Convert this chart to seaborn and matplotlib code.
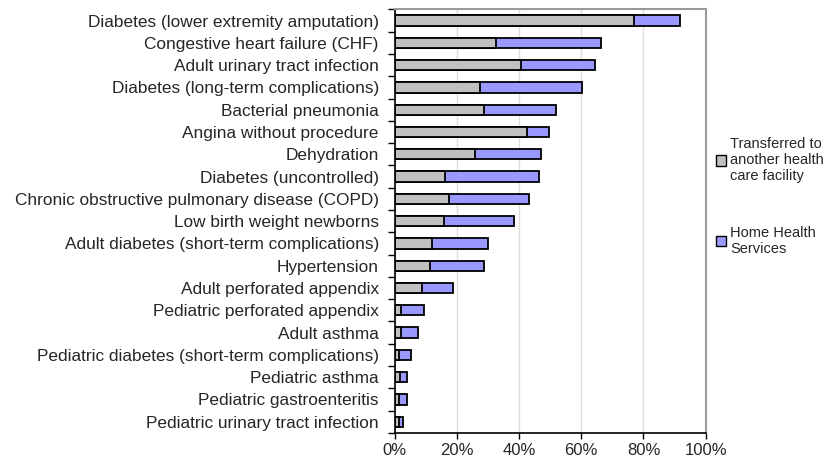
import numpy as np
import pandas as pd
import seaborn as sns
import matplotlib.pyplot as plt
from matplotlib.patches import Patch
from matplotlib.ticker import PercentFormatter, FixedLocator

conditions = [
    "Diabetes (lower extremity amputation)",
    "Congestive heart failure (CHF)",
    "Adult urinary tract infection",
    "Diabetes (long-term complications)",
    "Bacterial pneumonia",
    "Angina without procedure",
    "Dehydration",
    "Diabetes (uncontrolled)",
    "Chronic obstructive pulmonary disease (COPD)",
    "Low birth weight newborns",
    "Adult diabetes (short-term complications)",
    "Hypertension",
    "Adult perforated appendix",
    "Pediatric perforated appendix",
    "Adult asthma",
    "Pediatric diabetes (short-term complications)",
    "Pediatric asthma",
    "Pediatric gastroenteritis",
    "Pediatric urinary tract infection",
]
transferred = [77.0, 32.6, 40.6, 27.5, 28.8, 42.5, 25.8, 16.3, 17.5, 15.7,
               11.9, 11.3, 8.8, 2.1, 2.1, 1.3, 1.8, 1.4, 1.2]
home_health = [14.9, 33.7, 23.8, 32.6, 23.0, 7.0, 21.1, 30.1, 25.7, 22.5,
               18.1, 17.5, 10.0, 7.4, 5.4, 3.8, 2.1, 2.5, 1.4]

df = pd.DataFrame({"condition": conditions,
                   "transferred": transferred,
                   "home": home_health})
df["total"] = df["transferred"] + df["home"]

sns.set_style("white")
plt.rcParams["font.family"] = ["Liberation Sans", "DejaVu Sans"]

fig, ax = plt.subplots(figsize=(8.4, 4.68), dpi=100)
fig.subplots_adjust(left=0.47, right=0.84, top=0.98, bottom=0.075)

sns.barplot(data=df, y="condition", x="total", orient="h", color="#9999ff",
            saturation=1, width=0.46, edgecolor="black", linewidth=1.3, ax=ax)
sns.barplot(data=df, y="condition", x="transferred", orient="h", color="#c0c0c0",
            saturation=1, width=0.46, edgecolor="black", linewidth=1.3, ax=ax)

ax.set_xlim(0, 100)
ax.set_ylim(len(conditions) - 0.5, -0.5)
ax.xaxis.set_major_locator(FixedLocator([0, 20, 40, 60, 80, 100]))
ax.xaxis.set_major_formatter(PercentFormatter(decimals=0))
ax.grid(axis="x", color="#dddddd", linewidth=1)
ax.set_axisbelow(True)
ax.set_xlabel("")
ax.set_ylabel("")

ax.tick_params(axis="y", which="major", left=False, labelsize=12.4, pad=8)
ax.yaxis.set_minor_locator(FixedLocator(np.arange(-0.5, len(conditions), 1.0)))
ax.tick_params(axis="y", which="minor", left=True, length=5, color="black", width=1)
ax.tick_params(axis="x", bottom=True, labelsize=12, length=4, direction="out",
               color="black", width=1)

for side in ["left", "bottom"]:
    ax.spines[side].set_color("black")
    ax.spines[side].set_linewidth(1.2)
for side in ["top", "right"]:
    ax.spines[side].set_color("#999999")
    ax.spines[side].set_linewidth(1.5)

handles = [Patch(facecolor="#c0c0c0", edgecolor="black", linewidth=1),
           Patch(facecolor="#9999ff", edgecolor="black", linewidth=1)]
labels = ["Transferred to\nanother health\ncare facility", "Home Health\nServices"]
fig.legend(handles, labels, loc="upper left", bbox_to_anchor=(0.845, 0.72),
           frameon=False, fontsize=10.5, handlelength=0.7, handleheight=0.7,
           handletextpad=0.3, labelspacing=2.9, borderaxespad=0)

fig.savefig("out.png", dpi=100)
